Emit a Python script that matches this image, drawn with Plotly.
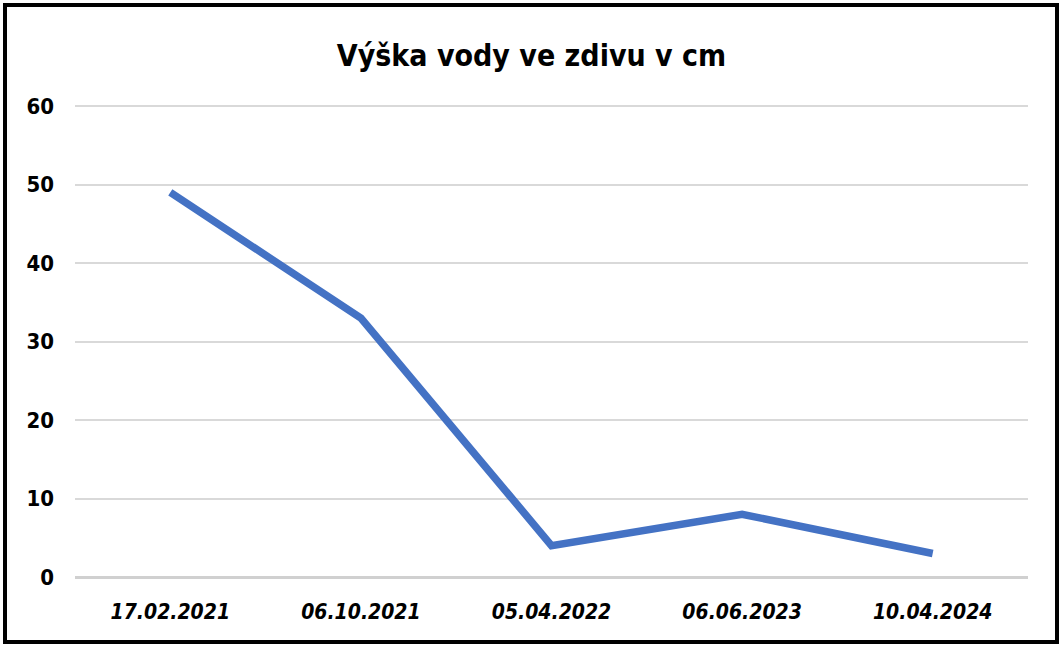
import plotly.graph_objects as go

categories = ["17.02.2021", "06.10.2021", "05.04.2022", "06.06.2023", "10.04.2024"]
values = [49, 33, 4, 8, 3]
y_ticks = [0, 10, 20, 30, 40, 50, 60]
title_text = "Výška vody ve zdivu v cm"

W, H = 1063, 648
L, R, T, B = 75, 35, 103, 71
pw, ph = W - L - R, H - T - B

fig = go.Figure()
fig.add_trace(go.Scatter(
    x=categories, y=values, mode="lines",
    line=dict(color="#4472C4", width=7.5),
    hoverinfo="skip", showlegend=False,
))

font_family = "DejaVu Sans Condensed, Liberation Sans Narrow, Liberation Sans, Arial"

fig.update_layout(
    width=W, height=H,
    margin=dict(l=L, r=R, t=T, b=B),
    paper_bgcolor="white", plot_bgcolor="white",
    title=dict(text="<b>" + title_text + "</b>", x=0.5, xref="container", xanchor="center",
               y=1 - 55 / H, yref="container", yanchor="middle",
               font=dict(family=font_family, size=30, color="black")),
    xaxis=dict(
        type="category", tickmode="array", tickvals=categories,
        ticktext=["<b><i>" + c + "</i></b>" for c in categories],
        tickfont=dict(family=font_family, size=21, color="black"),
        showgrid=False, showline=False, zeroline=False, ticks="",
        range=[-0.5, len(categories) - 0.5], ticklabelstandoff=20,
    ),
    yaxis=dict(
        range=[0, 60.4], tickmode="array", tickvals=y_ticks,
        ticktext=["<b>%d</b>" % v for v in y_ticks],
        tickfont=dict(family=font_family, size=22, color="black"),
        showgrid=True, gridcolor="#d9d9d9", gridwidth=2,
        zeroline=True, zerolinecolor="#d0d0d0", zerolinewidth=3,
        showline=False, ticks="", ticklabelstandoff=20,
    ),
    shapes=[dict(
        type="rect", xref="paper", yref="paper",
        x0=(5 - L) / pw, x1=(W - 6 - L) / pw,
        y0=-(H - 6 - T - ph) / ph, y1=1 + (T - 5) / ph,
        line=dict(color="black", width=4), fillcolor="rgba(0,0,0,0)", layer="above",
    )],
)

fig.write_html("out.html", config={"displayModeBar": False},
               post_script="document.body.style.margin='0';document.body.style.overflow='hidden';")
